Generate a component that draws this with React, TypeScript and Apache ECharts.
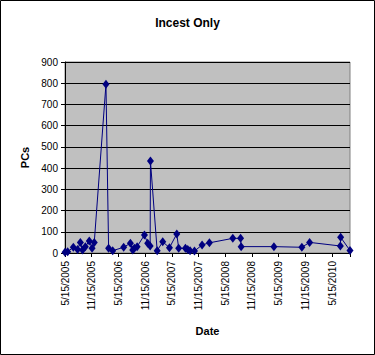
import React, { useEffect, useRef } from "react";
import * as echarts from "echarts";

const dates = [
  "2005-05-15", "2005-06-02", "2005-07-11", "2005-08-09", "2005-08-28", "2005-09-12",
  "2005-10-01", "2005-10-28", "2005-11-16", "2005-12-01", "2006-02-19", "2006-03-09",
  "2006-04-06", "2006-06-20", "2006-08-05", "2006-08-21", "2006-09-01", "2006-09-20",
  "2006-11-09", "2006-12-01", "2006-12-18", "2006-12-20", "2007-02-04", "2007-03-14",
  "2007-04-29", "2007-06-18", "2007-07-01", "2007-08-16", "2007-09-01", "2007-09-17",
  "2007-10-17", "2007-12-08", "2008-01-27", "2008-07-05", "2008-08-27", "2008-08-31",
  "2009-04-12", "2009-10-20", "2009-12-12", "2010-07-10", "2010-07-12", "2010-09-14",
];
const pcs = [
  3, 6, 27, 17, 50, 14,
  30, 57, 22, 50, 795, 22,
  11, 27, 46, 14, 22, 30,
  85, 46, 33, 433, 11, 53,
  25, 90, 22, 22, 17, 11,
  9, 38, 48, 69, 69, 30,
  30, 27, 50, 33, 74, 12,
];
const xTickLabels = [
  "5/15/2005", "11/15/2005", "5/15/2006", "11/15/2006", "5/15/2007", "11/15/2007",
  "5/15/2008", "11/15/2008", "5/15/2009", "11/15/2009", "5/15/2010",
];
const baseDate = "2005-05-15";
const endDate = "2010-09-14";

const DAY = 86400000;
const toDays = (d: string) => (Date.parse(d + "T00:00:00Z") - Date.parse(baseDate + "T00:00:00Z")) / DAY;
const STEP = 182.5;

export default function App() {
  const ref = useRef<HTMLDivElement>(null);
  useEffect(() => {
    if (!ref.current) return;
    const chart = echarts.init(ref.current, undefined, { renderer: "svg" });
    const font = "'Liberation Sans', Arial, sans-serif";
    chart.setOption({
      animation: false,
      textStyle: { fontFamily: font },
      title: {
        text: "Incest Only",
        left: "center",
        top: 12,
        textStyle: { fontSize: 12, fontWeight: "bold", color: "#000", fontFamily: font },
      },
      graphic: [
        {
          type: "rect",
          shape: { x: 0.5, y: 0.5, width: 374, height: 354 },
          style: { fill: "none", stroke: "#000", lineWidth: 1 },
          silent: true,
        },
      ],
      grid: {
        left: 65,
        right: 25,
        top: 62,
        bottom: 102,
        show: true,
        backgroundColor: "#C0C0C0",
        borderColor: "#808080",
        borderWidth: 1,
      },
      xAxis: {
        type: "value",
        min: 0,
        max: toDays(endDate),
        interval: STEP,
        name: "Date",
        nameLocation: "middle",
        nameGap: 72,
        nameTextStyle: { fontSize: 11, fontWeight: "bold", color: "#000", fontFamily: font },
        axisLine: { show: true, lineStyle: { color: "#000", width: 1 } },
        axisTick: { show: true, length: 4, lineStyle: { color: "#000" } },
        splitLine: { show: false },
        axisLabel: {
          rotate: 90,
          margin: 8,
          fontSize: 10,
          color: "#000",
          fontFamily: font,
          showMaxLabel: true,
          formatter: (v: number) => {
            const k = Math.round(v / STEP);
            if (Math.abs(v - k * STEP) > 1 || k < 0 || k >= xTickLabels.length) return "";
            return xTickLabels[k];
          },
        },
      },
      yAxis: {
        type: "value",
        min: 0,
        max: 900,
        interval: 100,
        name: "PCs",
        nameLocation: "middle",
        nameGap: 26,
        nameRotate: 90,
        nameTextStyle: { fontSize: 11, fontWeight: "bold", color: "#000", fontFamily: font },
        axisLine: { show: true, lineStyle: { color: "#000", width: 1 } },
        axisTick: { show: true, length: 4, lineStyle: { color: "#000" } },
        splitLine: { show: true, lineStyle: { color: "#000", width: 1 } },
        axisLabel: { fontSize: 10, color: "#000", margin: 7, fontFamily: font },
      },
      series: [
        {
          type: "line",
          data: dates.map((d, i) => [toDays(d), pcs[i]]),
          symbol: "diamond",
          symbolSize: [7, 9],
          showAllSymbol: true,
          lineStyle: { color: "#000080", width: 1 },
          itemStyle: { color: "#000080" },
          clip: false,
        },
      ],
    });
    return () => chart.dispose();
  }, []);
  return (
    <div
      ref={ref}
      style={{ position: "fixed", left: 0, top: 0, width: 375, height: 355, background: "#fff" }}
    />
  );
}
